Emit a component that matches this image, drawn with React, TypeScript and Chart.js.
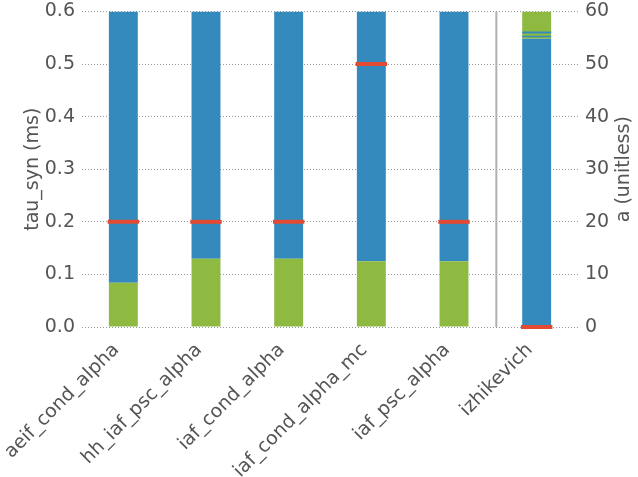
import React, { useEffect, useRef } from 'react';
import { Chart, registerables } from 'chart.js';

Chart.register(...registerables);

const categories = [
  'aeif_cond_alpha',
  'hh_iaf_psc_alpha',
  'iaf_cond_alpha',
  'iaf_cond_alpha_mc',
  'iaf_psc_alpha',
  'izhikevich',
];
// tau_syn (ms), left axis
const tauLow: (number | null)[] = [0.084, 0.13, 0.13, 0.125, 0.125, null];
const tauHigh: (number | null)[] = [0.6, 0.6, 0.6, 0.6, 0.6, null];
const tauDefault: (number | null)[] = [0.2, 0.2, 0.2, 0.5, 0.2, null];
// a (unitless), right axis
const aLow: (number | null)[] = [null, null, null, null, null, 54.8];
const aHigh: (number | null)[] = [null, null, null, null, null, 60];
const aDefault: (number | null)[] = [null, null, null, null, null, 0];
const aStripeA: (number | null)[][] = [[], [], [], [], [], [55.1, 55.4]];
const aStripeB: (number | null)[][] = [[], [], [], [], [], [55.8, 56.2]];

const leftTicks = [0, 0.1, 0.2, 0.3, 0.4, 0.5, 0.6];
const rightTicks = [0, 10, 20, 30, 40, 50, 60];

const BLUE = '#348ABD';
const GREEN = '#8EBA42';
const RED = '#E24A33';
const FONT = 'DejaVu Sans';
const FS = 19;

const range = (a: (number | null)[], b: (number | null)[]) =>
  a.map((v, i) => (v == null || b[i] == null ? null : [v as number, b[i] as number]));
const around = (a: (number | null)[], h: number) =>
  a.map((v) => (v == null ? null : [v - h, v + h]));
const stripe = (s: (number | null)[][]) => s.map((p) => (p.length ? p : null));

export default function App() {
  const ref = useRef<HTMLCanvasElement>(null);
  useEffect(() => {
    document.body.style.margin = '0';
    const canvas = ref.current!;
    const titles = {
      id: 'titles',
      afterDraw(chart: any) {
        const { ctx, chartArea } = chart;
        const cy = (chartArea.top + chartArea.bottom) / 2;
        ctx.save();
        ctx.fillStyle = '#555';
        ctx.font = `${FS}px "${FONT}"`;
        ctx.textAlign = 'center';
        ctx.textBaseline = 'middle';
        ctx.translate(33, cy);
        ctx.rotate(-Math.PI / 2);
        ctx.fillText('tau_syn (ms)', 0, 0);
        ctx.restore();
        ctx.save();
        ctx.fillStyle = '#555';
        ctx.font = `${FS}px "${FONT}"`;
        ctx.textAlign = 'center';
        ctx.textBaseline = 'middle';
        ctx.translate(624, cy);
        ctx.rotate(-Math.PI / 2);
        ctx.fillText('a (unitless)', 0, 0);
        ctx.restore();
      },
      beforeDatasetsDraw(chart: any) {
        const { ctx, chartArea, scales } = chart;
        const x = (scales.x.getPixelForValue(4) + scales.x.getPixelForValue(5)) / 2 + 1;
        ctx.save();
        ctx.strokeStyle = '#b0b0b0';
        ctx.lineWidth = 2;
        ctx.beginPath();
        ctx.moveTo(x, chartArea.top);
        ctx.lineTo(x, chartArea.bottom);
        ctx.stroke();
        ctx.restore();
      },
    };
    const common = { grouped: false, categoryPercentage: 1, barPercentage: 0.35, borderWidth: 0 };
    const chart = new Chart(canvas, {
      type: 'bar',
      data: {
        labels: categories,
        datasets: [
          { ...common, label: 'tau default', data: around(tauDefault, 0.0038) as any, backgroundColor: RED, yAxisID: 'y', order: 0, barPercentage: 0.38, clip: false as any },
          { ...common, label: 'a default', data: around(aDefault, 0.38) as any, backgroundColor: RED, yAxisID: 'y1', order: 0, barPercentage: 0.38, clip: false as any },
          { ...common, label: 'a stripe 1', data: stripe(aStripeA) as any, backgroundColor: BLUE, yAxisID: 'y1', order: 1 },
          { ...common, label: 'a stripe 2', data: stripe(aStripeB) as any, backgroundColor: BLUE, yAxisID: 'y1', order: 1 },
          { ...common, label: 'tau low', data: range(tauLow.map((v) => (v == null ? null : 0)), tauLow) as any, backgroundColor: GREEN, yAxisID: 'y', order: 2 },
          { ...common, label: 'tau high', data: range(tauLow, tauHigh) as any, backgroundColor: BLUE, yAxisID: 'y', order: 2 },
          { ...common, label: 'a low', data: range(aLow.map((v) => (v == null ? null : 0)), aLow) as any, backgroundColor: BLUE, yAxisID: 'y1', order: 2 },
          { ...common, label: 'a high', data: range(aLow, aHigh) as any, backgroundColor: GREEN, yAxisID: 'y1', order: 2 },
        ],
      },
      options: {
        animation: false,
        responsive: false,
        layout: { padding: { top: 11.5, left: 0, right: 0, bottom: 0 } },
        plugins: { legend: { display: false }, tooltip: { enabled: false } },
        scales: {
          x: {
            grid: { display: false },
            border: { display: false },
            ticks: {
              maxRotation: 45,
              minRotation: 45,
              color: '#555',
              padding: 4,
              labelOffset: -7,
              font: { size: FS, family: FONT },
            },
            afterFit: (s: any) => {
              s.height = 150;
            },
          },
          y: {
            position: 'left',
            min: 0,
            max: 0.6,
            afterBuildTicks: (s: any) => {
              s.ticks = leftTicks.map((v) => ({ value: v }));
            },
            ticks: {
              color: '#555',
              padding: 7,
              font: { size: FS, family: FONT },
              callback: (v: any) => Number(v).toFixed(1),
            },
            grid: { color: '#999', lineWidth: 1, drawTicks: false, borderDash: [1, 2] } as any,
            border: { display: false, dash: [1, 2] },
            afterFit: (s: any) => {
              s.width = 82;
              s.paddingTop = 0;
              s.paddingBottom = 0;
            },
          },
          y1: {
            position: 'right',
            min: 0,
            max: 60,
            afterBuildTicks: (s: any) => {
              s.ticks = rightTicks.map((v) => ({ value: v }));
            },
            ticks: {
              color: '#555',
              padding: 7,
              font: { size: FS, family: FONT },
            },
            grid: { display: false, drawTicks: false },
            border: { display: false },
            afterFit: (s: any) => {
              s.width = 60;
              s.paddingTop = 0;
              s.paddingBottom = 0;
            },
          },
        },
      },
      plugins: [titles],
    });
    return () => chart.destroy();
  }, []);
  return <canvas ref={ref} width={638} height={477} style={{ display: 'block' }} />;
}
